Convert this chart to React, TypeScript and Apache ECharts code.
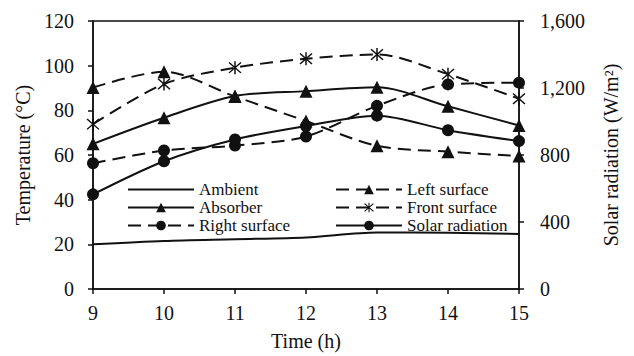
import React, { useEffect, useRef } from "react";
import * as echarts from "echarts";

const hours = ["9", "10", "11", "12", "13", "14", "15"];
const ambient = [20, 21.5, 22.3, 23.1, 25.3, 25.2, 24.6];
const absorber = [65, 76.7, 86.4, 88.6, 90.3, 81.8, 73.2];
const leftSurface = [90.2, 97.3, 86.2, 75.2, 64.1, 61.5, 59.5];
const frontSurface = [73.8, 91.8, 99.1, 103.1, 105, 96.2, 85.2];
const rightSurface = [56.3, 62, 64.2, 68.3, 82, 91.6, 92.4];
const solarRadiation = [565, 763, 893, 973, 1035, 948, 883];

const tempTicks = { min: 0, max: 120, interval: 20 };
const solarTicks = { min: 0, max: 1600, interval: 400 };

const FONT = "'Liberation Serif', 'Times New Roman', serif";
const INK = "#111";
const ASTERISK =
  "path://M9 0 L11 0 L11 20 L9 20 Z M1.3 2.7 L2.7 1.3 L18.7 17.3 L17.3 18.7 Z M17.3 1.3 L18.7 2.7 L2.7 18.7 L1.3 17.3 Z";

export default function App() {
  const ref = useRef<HTMLDivElement>(null);
  useEffect(() => {
    document.body.style.margin = "0";
    const chart = echarts.init(ref.current!, null, { renderer: "svg" });
    const solid = { color: INK, width: 2, type: "solid" as const };
    const dashed = { color: INK, width: 2, type: [13, 7] as any };
    const common = {
      type: "line" as const,
      smooth: 0.3,
      itemStyle: { color: INK },
      emphasis: { disabled: true },
    };
    const legendCommon = {
      orient: "vertical" as const,
      top: 181,
      padding: 0,
      itemWidth: 66,
      itemHeight: 12,
      itemGap: 1,
      textStyle: { fontFamily: FONT, fontSize: 17, color: INK },
    };
    chart.setOption({
      animation: false,
      backgroundColor: "#fff",
      textStyle: { fontFamily: FONT },
      grid: {
        left: 93,
        top: 21,
        right: 115,
        bottom: 65,
        show: true,
        borderColor: INK,
        borderWidth: 1.5,
      },
      legend: [
        {
          ...legendCommon,
          left: 127,
          data: [
            { name: "Ambient", itemStyle: { opacity: 0 } },
            "Absorber",
            "Right surface",
          ],
        },
        { ...legendCommon, left: 335, data: ["Left surface", "Front surface", "Solar radiation"] },
      ],
      xAxis: {
        type: "category",
        data: hours,
        boundaryGap: false,
        name: "Time (h)",
        nameLocation: "middle",
        nameGap: 42,
        nameTextStyle: { fontFamily: FONT, fontSize: 20, color: INK },
        axisLine: { lineStyle: { color: INK, width: 1.5 } },
        axisTick: { show: true, length: 5, lineStyle: { color: INK, width: 1.5 } },
        axisLabel: { fontFamily: FONT, fontSize: 20, color: INK, margin: 14 },
        splitLine: { show: false },
      },
      yAxis: [
        {
          type: "value",
          ...tempTicks,
          name: "Temperature (°C)",
          nameLocation: "middle",
          nameGap: 52,
          nameTextStyle: { fontFamily: FONT, fontSize: 20, color: INK },
          axisLine: { show: true, lineStyle: { color: INK, width: 1.5 } },
          axisTick: { show: true, length: 5, lineStyle: { color: INK, width: 1.5 } },
          axisLabel: { fontFamily: FONT, fontSize: 20, color: INK, margin: 19 },
          splitLine: { show: false },
        },
        {
          type: "value",
          ...solarTicks,
          position: "right",
          name: "Solar radiation (W/m²)",
          nameLocation: "middle",
          nameGap: 82,
          nameRotate: 90,
          nameTextStyle: { fontFamily: FONT, fontSize: 20, color: INK, verticalAlign: "top" },
          axisLine: { show: true, lineStyle: { color: INK, width: 1.5 } },
          axisTick: { show: true, length: 5, lineStyle: { color: INK, width: 1.5 } },
          axisLabel: {
            fontFamily: FONT,
            fontSize: 20,
            color: INK,
            margin: 21,
            formatter: (v: number) => v.toLocaleString("en-US"),
          },
          splitLine: { show: false },
        },
      ],
      series: [
        { ...common, name: "Ambient", data: ambient, symbol: "none", lineStyle: solid },
        { ...common, name: "Absorber", data: absorber, symbol: "triangle", symbolSize: 13, lineStyle: solid },
        { ...common, name: "Right surface", data: rightSurface, symbol: "circle", symbolSize: 12, lineStyle: dashed },
        { ...common, name: "Left surface", data: leftSurface, symbol: "triangle", symbolSize: 13, lineStyle: dashed },
        { ...common, name: "Front surface", data: frontSurface, symbol: ASTERISK, symbolSize: 13, lineStyle: dashed },
        {
          ...common,
          name: "Solar radiation",
          data: solarRadiation,
          yAxisIndex: 1,
          symbol: "circle",
          symbolSize: 12,
          lineStyle: solid,
        },
      ],
    });
    return () => chart.dispose();
  }, []);
  return <div ref={ref} style={{ width: 634, height: 356 }} />;
}
